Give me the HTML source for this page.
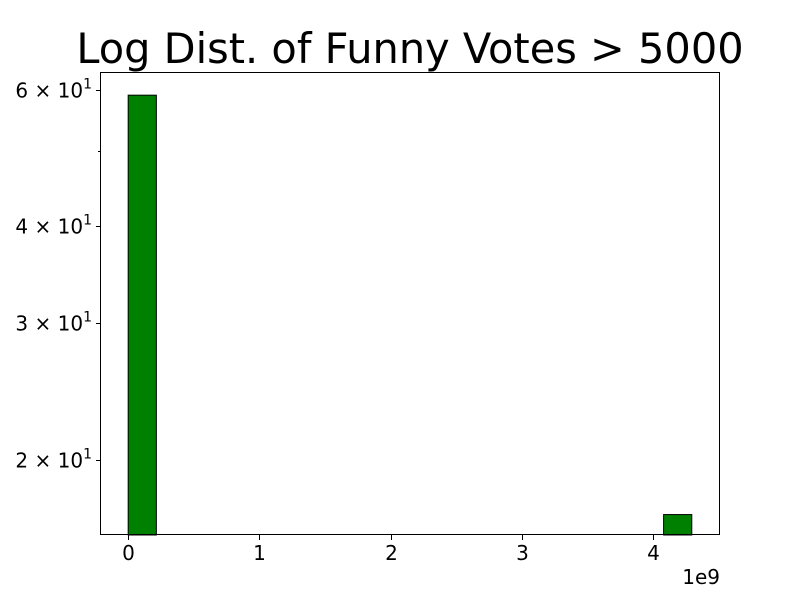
<!DOCTYPE html>
<html><head><meta charset="utf-8"><style>
html,body{margin:0;padding:0;background:#fff;}
svg{display:block;font-family:"DejaVu Sans","Liberation Sans",sans-serif;}
</style></head><body>
<svg id="chart" width="800" height="600" viewBox="0 0 800 600">
<text x="410" y="63" font-size="41.5" text-anchor="middle">Log Dist. of Funny Votes &gt; 5000</text>
<g id="bars"></g>
<g id="yticks"></g>
<g id="xticks"></g>
<rect x="100.5" y="72.5" width="619" height="462" fill="none" stroke="#000" stroke-width="1"/>
<text x="720" y="584" font-size="20" text-anchor="end">1e9</text>
</svg>
<script>
const binStart = 0;          // in 1e9 units
const binWidth = 0.2147;     // in 1e9 units
const counts = [59,0,0,0,0,0,0,0,0,0,0,0,0,0,0,0,0,0,0,17];
const xTicks = [0,1,2,3,4];
const yTicks = [20,30,40,60];
const yTickMant = ["2","3","4","6"];
const yMinor = [50];
const xDomain = [-0.2147, 4.509];
const yDomain = [16.0, 63.2];

const L=100,R=720,T=72,B=535;
const NS='http://www.w3.org/2000/svg';
function x(v){return L+(v-xDomain[0])/(xDomain[1]-xDomain[0])*(R-L);}
function y(v){const a=Math.log10(yDomain[0]),b=Math.log10(yDomain[1]);return B-(Math.log10(v)-a)/(b-a)*(B-T);}
function mk(tag,attrs,parent){const e=document.createElementNS(NS,tag);for(const k in attrs)e.setAttribute(k,attrs[k]);parent.appendChild(e);return e;}

const gb=document.getElementById('bars');
counts.forEach((c,i)=>{
  if(c<=0)return;
  const x0=x(binStart+i*binWidth),x1=x(binStart+(i+1)*binWidth);
  const top=Math.max(y(c),T);
  const r=mk('rect',{x:x0,y:top,width:x1-x0,height:B-top,fill:'#008000',stroke:'#000','stroke-width':1},gb);
  
  
});

const gy=document.getElementById('yticks');
yTicks.forEach((v,i)=>{
  const yy=Math.round(y(v))+0.5;
  const l=mk('line',{x1:L-4,x2:L,y1:yy,y2:yy,stroke:'#000'},gy);
  
  
  const t=mk('text',{x:L-8,y:yy+7,'font-size':20,'text-anchor':'end'},gy);
  
  
  t.appendChild(document.createTextNode(yTickMant[i]+' \u00d7 10'));
  const s=mk('tspan',{dy:-9,'font-size':14},t);
  s.textContent='1';
});
yMinor.forEach(v=>{
  const yy=Math.round(y(v))+0.5;
  const l=mk('line',{x1:L-2,x2:L,y1:yy,y2:yy,stroke:'#000'},gy);
  
  
});

const gx=document.getElementById('xticks');
xTicks.forEach(v=>{
  const xx=Math.round(x(v))+0.5;
  const l=mk('line',{x1:xx,x2:xx,y1:B,y2:B+5,stroke:'#000'},gx);
  
  
  const t=mk('text',{x:xx,y:B+25,'font-size':20,'text-anchor':'middle'},gx);
  
  
  t.textContent=String(v);
});
</script>
</body></html>
